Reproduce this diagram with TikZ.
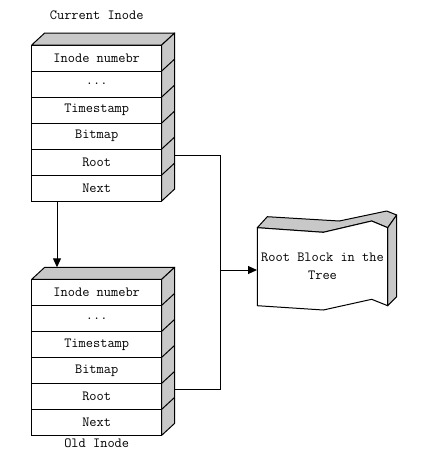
\documentclass[tikz,border=0pt]{standalone}
\usetikzlibrary{arrows.meta}
\definecolor{shade}{RGB}{200,200,200}
\tikzset{
  field/.style={draw, rectangle, minimum width=130pt, minimum height=26pt, inner sep=0pt, outer sep=0pt},
  face/.style={draw, fill=shade, line join=round},
}

\begin{document}
\begin{tikzpicture}[x=1pt, y=-1pt, line width=1pt, font=\fontsize{14}{18}\selectfont\ttfamily,
  >={Triangle[length=9pt,width=8pt]}]
  \useasboundingbox (0,0) rectangle (425,456);

  % current inode
  \node (curname) at (96.7,15) {Current Inode};
  \node[field] (cnum)  at (96.7,58)  {Inode numebr};
  \node[field] (cdots) at (96.7,84)  {...};
  \node[field] (ctime) at (96.7,110) {Timestamp};
  \node[field] (cbit)  at (96.7,136) {Bitmap};
  \node[field] (croot) at (96.7,162) {Root};
  \node[field] (cnext) at (96.7,188) {Next};
  \draw[face] (cnum.north west) -- ++(13,-12) -- ([xshift=13pt,yshift=12pt]cnum.north east) -- (cnum.north east) -- cycle;
  \draw[face] (cnum.north east) -- ++(13,-12) -- ([xshift=13pt,yshift=12pt]cnext.south east) -- (cnext.south east) -- cycle;
  \foreach \r in {cnum,cdots,ctime,cbit,croot}
    \draw (\r.south east) -- ++(13,-12);

  % old inode
  \node[field] (onum)  at (96.7,292.3) {Inode numebr};
  \node[field] (odots) at (96.7,318.3) {...};
  \node[field] (otime) at (96.7,344.3) {Timestamp};
  \node[field] (obit)  at (96.7,370.3) {Bitmap};
  \node[field] (oroot) at (96.7,396.3) {Root};
  \node[field] (onext) at (96.7,422.3) {Next};
  \node (oldname) at (96.7,443) {Old Inode};
  \draw[face] (onum.north west) -- ++(13,-12) -- ([xshift=13pt,yshift=12pt]onum.north east) -- (onum.north east) -- cycle;
  \draw[face] (onum.north east) -- ++(13,-12) -- ([xshift=13pt,yshift=12pt]onext.south east) -- (onext.south east) -- cycle;
  \foreach \r in {onum,odots,otime,obit,oroot}
    \draw (\r.south east) -- ++(13,-12);

  % root block
  \draw[face] (257.3,227.7) -- (323.3,232.3) -- (371.7,221) -- (387.7,227.7)
    -- (396.7,215) -- (386.7,211) -- (339.3,221) -- (267.3,216.7) -- cycle;
  \draw[face] (387.7,227.7) -- (396.7,215) -- (396.7,296.7) -- (387.7,305.7) -- cycle;
  \draw[fill=white] (257.3,227.7) -- (323.3,232.3) -- (371.7,221) -- (387.7,227.7)
    -- (387.7,305.7) -- (371.7,299.3) -- (323.3,310) -- (257.3,305.7) -- cycle;
  \node[minimum width=130pt, inner sep=0pt, align=center] (tree) at (322.5,266) {Root Block in the\\Tree};

  % links
  \coordinate (bus) at (220.5,270);
  \draw ([xshift=13pt,yshift=7pt]croot.east) -| (bus);
  \draw ([xshift=13pt,yshift=7pt]oroot.east) -| (bus);
  \draw[->] (bus) -- (tree.west |- bus);
  \draw[->] ([xshift=-39.7pt]cnext.south) -- ([xshift=-39.7pt,yshift=12pt]onum.north);
\end{tikzpicture}
\end{document}
